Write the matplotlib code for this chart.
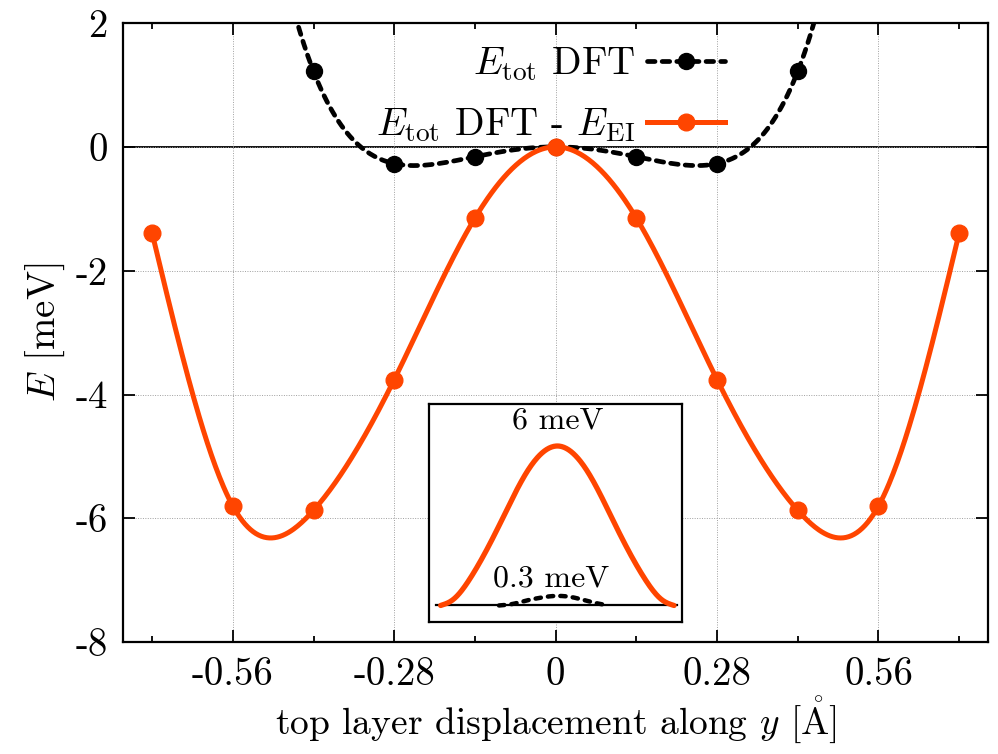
import numpy as np
import matplotlib
matplotlib.use('Agg')
import matplotlib.pyplot as plt
from matplotlib.ticker import FixedLocator, FixedFormatter

plt.rcParams['font.family'] = ['cmr10', 'DejaVu Serif']
plt.rcParams['mathtext.fontset'] = 'cm'
plt.rcParams['axes.unicode_minus'] = False
plt.rcParams['axes.formatter.use_mathtext'] = True

# displacement along y [Angstrom]
disp = np.array([-0.70, -0.56, -0.42, -0.28, -0.14, 0.0, 0.14, 0.28, 0.42, 0.56, 0.70])
# E_tot DFT - E_EI [meV]
e_diff = np.array([-1.39, -5.80, -5.87, -3.76, -1.15, 0.0, -1.15, -3.76, -5.87, -5.80, -1.39])

# E_tot DFT [meV]
disp_dft = np.array([-0.42, -0.28, -0.14, 0.0, 0.14, 0.28, 0.42])
e_dft = np.array([1.22, -0.27, -0.16, 0.0, -0.16, -0.27, 1.22])

# inset: barrier profiles (arbitrary position, meV)
inset_pos = np.array([-1.0, -0.9, -0.75, -0.5, -0.25, 0.0, 0.25, 0.5, 0.75, 0.9, 1.0])
inset_big = np.array([0.0, 0.2, 1.0, 3.0, 5.1, 6.0, 5.1, 3.0, 1.0, 0.2, 0.0])
inset_pos_small = np.array([-0.50, -0.38, -0.27, -0.16, -0.05, 0.06, 0.17, 0.28, 0.40])
inset_small = np.array([0.0, 0.06, 0.18, 0.28, 0.35, 0.35, 0.27, 0.14, 0.03])

xticks = [-0.56, -0.28, 0.0, 0.28, 0.56]
xticklabels = ['-0.56', '-0.28', '0', '0.28', '0.56']
xminor = [-0.70, -0.42, -0.14, 0.14, 0.42, 0.70]
yticks = [2, 0, -2, -4, -6, -8]
yticklabels = ['2', '0', '-2', '-4', '-6', '-8']

ORANGE = '#ff4500'
FS = 28


def cspline(x, y, xs):
    # natural cubic spline (like gnuplot "smooth csplines")
    n = len(x)
    h = np.diff(x)
    A = np.zeros((n, n))
    r = np.zeros(n)
    A[0, 0] = A[-1, -1] = 1
    for i in range(1, n - 1):
        A[i, i - 1] = h[i - 1]
        A[i, i] = 2 * (h[i - 1] + h[i])
        A[i, i + 1] = h[i]
        r[i] = 3 * ((y[i + 1] - y[i]) / h[i] - (y[i] - y[i - 1]) / h[i - 1])
    c = np.linalg.solve(A, r)
    b = (y[1:] - y[:-1]) / h - h * (2 * c[:-1] + c[1:]) / 3
    d = (c[1:] - c[:-1]) / (3 * h)
    idx = np.clip(np.searchsorted(x, xs) - 1, 0, n - 2)
    dx = xs - x[idx]
    return y[idx] + b[idx] * dx + c[idx] * dx ** 2 + d[idx] * dx ** 3


fig = plt.figure(figsize=(9.98, 7.54), dpi=100)
ax = fig.add_axes([0.1235, 0.1482, 0.8665, 0.8213])

# even polynomial fit of the DFT energy
M = np.column_stack([disp_dft ** 2, disp_dft ** 4, disp_dft ** 6])
coef = np.linalg.lstsq(M, e_dft, rcond=None)[0]
xf = np.linspace(-0.75, 0.75, 600)
yf = coef[0] * xf ** 2 + coef[1] * xf ** 4 + coef[2] * xf ** 6

xs = np.linspace(disp[0], disp[-1], 600)
ys = cspline(disp, e_diff, xs)

dash = (0, (1.6, 1.5))
ax.axhline(0, color='black', lw=1.3, zorder=1)
ax.plot(xf, yf, color='black', lw=3.4, ls=dash, dash_capstyle='round', zorder=2)
ax.plot(disp_dft, e_dft, 'o', color='black', ms=11.5, zorder=2)
ax.plot(xs, ys, color=ORANGE, lw=3.6, zorder=3)
ax.plot(disp, e_diff, 'o', color=ORANGE, ms=12, zorder=3)

# legend handles
h1, = ax.plot([], [], color='black', lw=3.4, ls=dash, dash_capstyle='round', marker='o', ms=11.5)
h2, = ax.plot([], [], color=ORANGE, lw=3.6, marker='o', ms=12)
ax.legend([h1, h2], [r'$E_{\rm tot}$ DFT', r'$E_{\rm tot}$ DFT - $E_{\rm EI}$'],
          loc='upper right', bbox_to_anchor=(0.726, 0.94), bbox_transform=fig.transFigure,
          markerfirst=False, frameon=False, fontsize=FS, handlelength=2.0,
          handletextpad=0.3, labelspacing=0.6, borderpad=0, borderaxespad=0, numpoints=1)

ax.set_xlim(-0.75, 0.75)
ax.set_ylim(-8, 2)
ax.xaxis.set_major_locator(FixedLocator(xticks))
ax.xaxis.set_major_formatter(FixedFormatter(xticklabels))
ax.xaxis.set_minor_locator(FixedLocator(xminor))
ax.yaxis.set_major_locator(FixedLocator(yticks))
ax.yaxis.set_major_formatter(FixedFormatter(yticklabels))
ax.tick_params(which='both', direction='in', top=True, right=True, labelsize=FS, width=1.3)
ax.tick_params(which='major', length=8.5)
ax.tick_params(which='minor', length=4.5)
ax.tick_params(axis='x', pad=11)
ax.tick_params(axis='y', pad=11)
ax.grid(True, which='major', color='#a0a0a0', ls=(0, (1, 1.5)), lw=0.7)
for s in ax.spines.values():
    s.set_linewidth(1.6)

ax.set_xlabel(r'top layer displacement along $y$ [$\mathring{\mathrm{A}}$]', fontsize=27, labelpad=1)
ax.set_ylabel(r'$E$ [meV]', fontsize=FS, labelpad=6)

# inset
ins = fig.add_axes([0.4302, 0.1747, 0.2529, 0.2895])
ins.set_xlim(-1.097, 1.066)
ins.set_ylim(-0.632, 7.58)
ins.set_xticks([])
ins.set_yticks([])
for s in ins.spines.values():
    s.set_linewidth(1.6)
ins.plot([-1.04, 1.024], [0, 0], color='black', lw=1.6, zorder=1)
ti = np.linspace(-1, 1, 300)
ins.plot(ti, cspline(inset_pos, inset_big, ti), color=ORANGE, lw=3.8, solid_capstyle='round', zorder=3)
ts = np.linspace(inset_pos_small[0], inset_pos_small[-1], 200)
ins.plot(ts, cspline(inset_pos_small, inset_small, ts), color='black', lw=3.2,
         ls=(0, (1.2, 1.6)), dash_capstyle='round', zorder=2)
ins.text(0.0, 6.45, '6 meV', ha='center', va='bottom', fontsize=23)
ins.text(-0.05, 0.5, '0.3 meV', ha='center', va='bottom', fontsize=23)

fig.savefig('out.png', dpi=100)
